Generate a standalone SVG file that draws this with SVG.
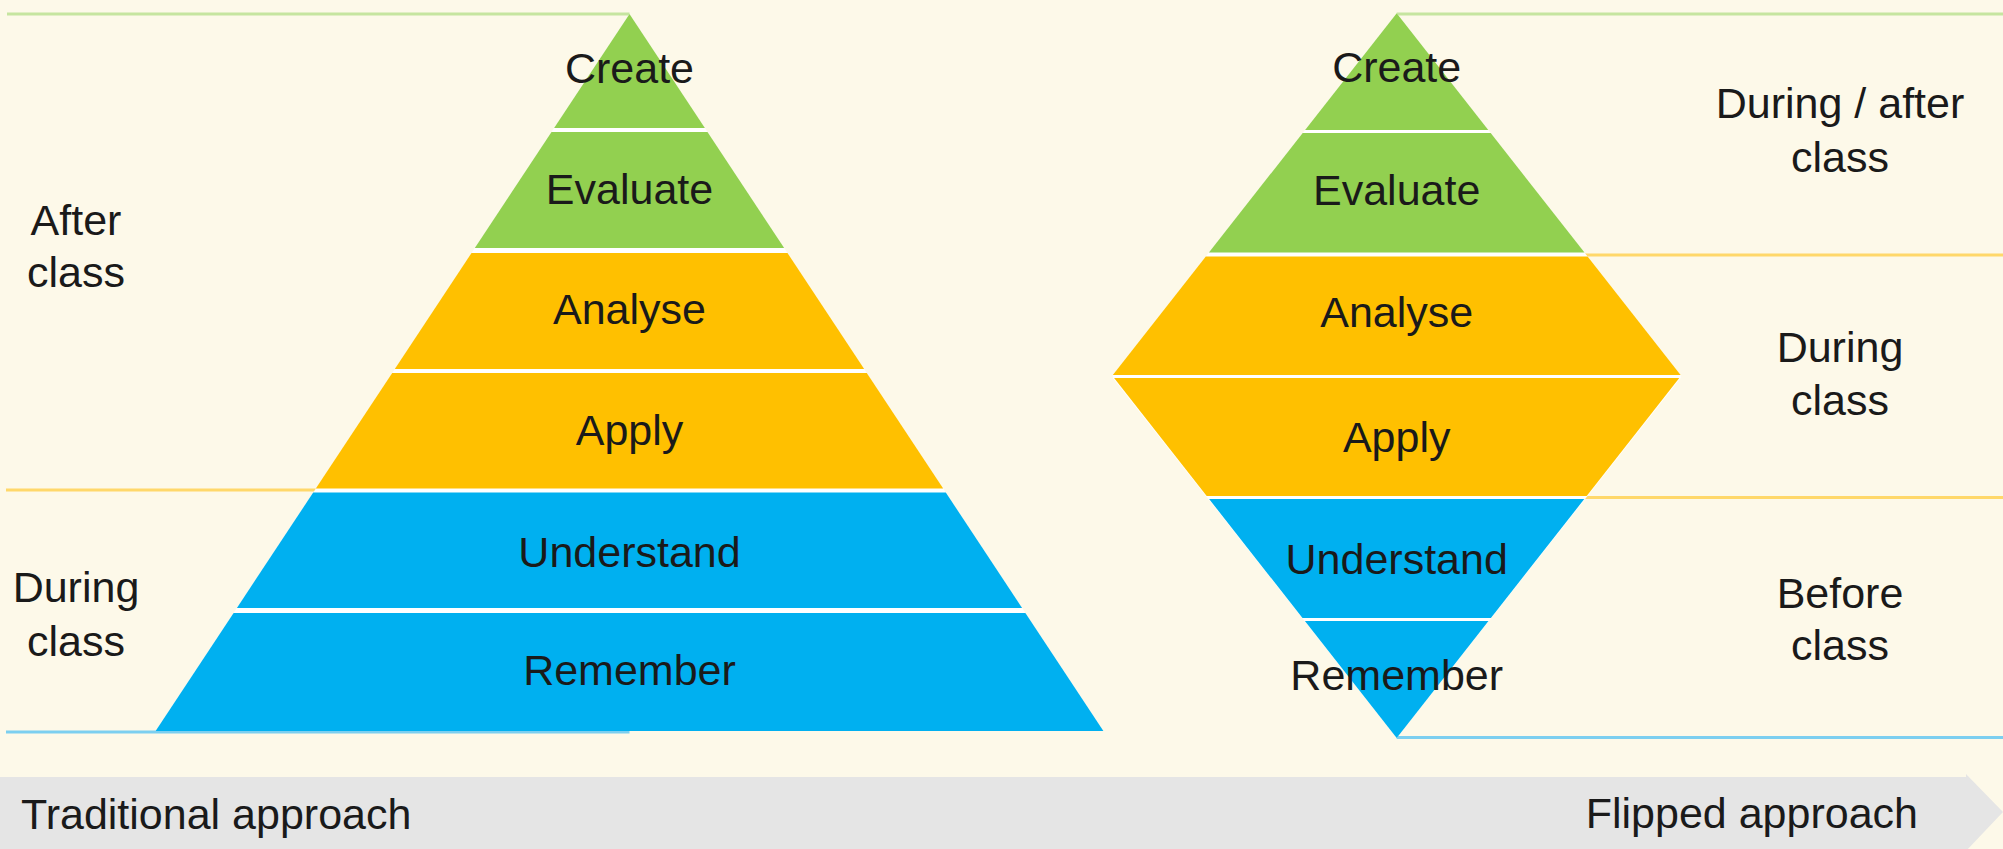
<svg xmlns="http://www.w3.org/2000/svg" width="2003" height="849" viewBox="0 0 2003 849">
<style>
text{font-family:"Liberation Sans",Arial,sans-serif;font-size:43px;fill:#1a1a1a}
.c{text-anchor:middle}
.g{fill:#92D050}
.o{fill:#FFC000}
.b{fill:#00B0F0}
.sg{stroke:#C6E5A0;stroke-width:3;fill:none}
.so{stroke:#FFD86A;stroke-width:3;fill:none}
.sb{stroke:#7CCFF0;stroke-width:3;fill:none}
</style>
<rect width="2003" height="849" fill="#FDF9E9"/>
<g id="band">
<polygon points="0,777 1966,777 1966,774 2003,812 1966,851 0,851" fill="#E5E5E5"/>
<text x="21" y="829">Traditional approach</text>
<text x="1918" y="828" text-anchor="end">Flipped approach</text>
</g>
<g id="connectors">
<line class="sg" x1="7" y1="14" x2="629.5" y2="14"/>
<line class="so" x1="6" y1="490" x2="629.5" y2="490"/>
<line class="sb" x1="6" y1="732" x2="629.5" y2="732"/>
<line class="sg" x1="1396.7" y1="14" x2="2003" y2="14"/>
<line class="so" x1="1396.7" y1="255" x2="2003" y2="255"/>
<line class="so" x1="1396.7" y1="497.5" x2="2003" y2="497.5"/>
<line class="sb" x1="1396.7" y1="737.5" x2="2003" y2="737.5"/>
</g>
<g id="traditional">
<polygon points="629.5,14 1103.4,731 155.6,731" fill="#FFFFFF"/>
<g id="t-create"><polygon class="g" points="629.5,14 704.9,128 554.1,128"/><text class="c" x="629.5" y="83">Create</text></g>
<g id="t-evaluate"><polygon class="g" points="551.5,132 707.5,132 784.2,248 474.8,248"/><text class="c" x="629.5" y="204">Evaluate</text></g>
<g id="t-analyse"><polygon class="o" points="471.5,253 787.5,253 864.2,369 394.8,369"/><text class="c" x="629.5" y="324">Analyse</text></g>
<g id="t-apply"><polygon class="o" points="392.2,373 866.8,373 943.2,488.5 315.8,488.5"/><text class="c" x="629.5" y="445">Apply</text></g>
<g id="t-understand"><polygon class="b" points="313.2,492.5 945.8,492.5 1022.1,608 236.9,608"/><text class="c" x="629.5" y="567">Understand</text></g>
<g id="t-remember"><polygon class="b" points="233.6,613 1025.4,613 1103.4,731 155.6,731"/><text class="c" x="629.5" y="685">Remember</text></g>
</g>
<g id="flipped">
<polygon points="1396.7,13.3 1680.6,375 1680.6,378 1396.7,738 1112.8,378 1112.8,375" fill="#FFFFFF"/>
<g id="f-create"><polygon class="g" points="1396.7,13.3 1488.3,130 1305.1,130"/><text class="c" x="1396.7" y="82">Create</text></g>
<g id="f-evaluate"><polygon class="g" points="1302.7,133 1490.7,133 1584.5,252.5 1208.9,252.5"/><text class="c" x="1396.7" y="205">Evaluate</text></g>
<g id="f-analyse"><polygon class="o" points="1205.8,256.5 1587.6,256.5 1680.6,375 1112.8,375"/><text class="c" x="1396.7" y="327">Analyse</text></g>
<g id="f-apply"><polygon class="o" points="1114.1,378 1679.3,378 1586.7,496 1206.7,496"/><text class="c" x="1396.7" y="452">Apply</text></g>
<g id="f-understand"><polygon class="b" points="1209.1,499 1584.3,499 1490.9,618 1302.5,618"/><text class="c" x="1396.7" y="574">Understand</text></g>
<g id="f-remember"><polygon class="b" points="1304.9,621 1488.5,621 1396.7,738"/><text class="c" x="1396.7" y="690">Remember</text></g>
</g>
<g id="left-labels">
<text class="c" x="76" y="235">After</text>
<text class="c" x="76" y="287">class</text>
<text class="c" x="76" y="602">During</text>
<text class="c" x="76" y="656">class</text>
</g>
<g id="right-labels">
<text class="c" x="1840" y="118">During / after</text>
<text class="c" x="1840" y="172">class</text>
<text class="c" x="1840" y="362">During</text>
<text class="c" x="1840" y="415">class</text>
<text class="c" x="1840" y="608">Before</text>
<text class="c" x="1840" y="660">class</text>
</g>
</svg>
